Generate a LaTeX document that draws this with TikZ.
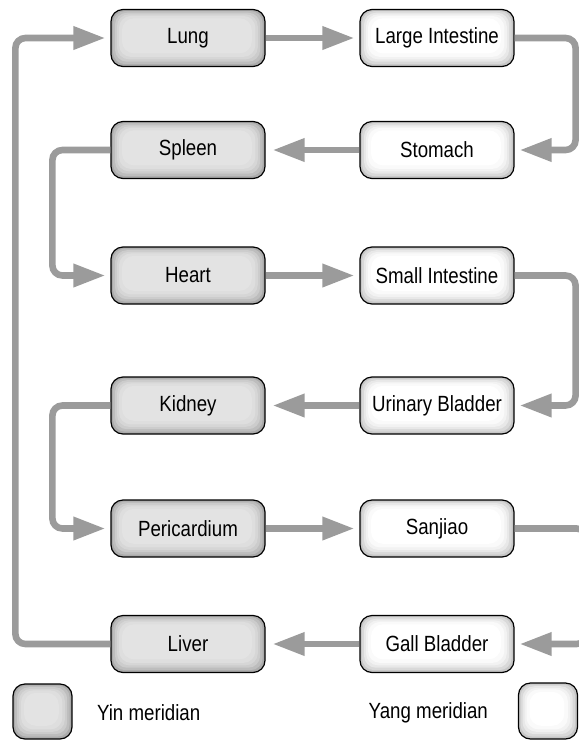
\documentclass[tikz,border=0pt]{standalone}
\usepackage{fontspec}
\setmainfont{Liberation Sans}[FakeStretch=0.85]
\usepackage{tikz}
\usetikzlibrary{arrows.meta}

\definecolor{linegray}{HTML}{9B9B9B}

\tikzset{
  box/.style={draw, line width=0.6pt, rounded corners=6pt, inner sep=0pt,
    minimum width=77pt, minimum height=28.5pt},
  yin/.style={box, path picture={
      \foreach \d/\c in {0/33,1/26,2/20,3/16,4/13,5.5/11}
        \fill[black!\c, rounded corners=6pt]
          ([shift={(\d pt,1.2*\d pt)}]path picture bounding box.south west) rectangle
          ([shift={(-1.2*\d pt,-0.8*\d pt)}]path picture bounding box.north east);
    }},
  yang/.style={box, path picture={
      \foreach \d/\c in {0/22,1/15,2/9,3/5,4/2,5.5/0}
        \fill[black!\c, rounded corners=6pt]
          ([shift={(\d pt,1.2*\d pt)}]path picture bounding box.south west) rectangle
          ([shift={(-1.2*\d pt,-0.8*\d pt)}]path picture bounding box.north east);
    }},
  flow/.style={draw=linegray, line width=3.3pt, rounded corners=5pt,
    -{Triangle[length=16pt,width=11pt]}, shorten >=2.5pt}
}

\begin{document}
\begin{tikzpicture}[x=0.5pt, y=-0.5pt, font=\fontsize{11}{13}\selectfont]
  \useasboundingbox (0,0) rectangle (579,741);
  \clip (0,0) rectangle (579,741);

  \node (Lung) at (188, 38) [yin] {Lung};
  \node (LI) at (437, 38) [yang] {Large Intestine};
  \node (Spleen) at (188, 150) [yin] {Spleen};
  \node (Stomach) at (437, 150) [yang] {Stomach};
  \node (Heart) at (188, 275.5) [yin] {Heart};
  \node (SI) at (437, 275.5) [yang] {Small Intestine};
  \node (Kidney) at (188, 405.5) [yin] {Kidney};
  \node (UB) at (437, 405.5) [yang] {Urinary Bladder};
  \node (Peri) at (188, 528.5) [yin] {Pericardium};
  \node (Sanjiao) at (437, 528.5) [yang] {Sanjiao};
  \node (Liver) at (188, 644) [yin] {Liver};
  \node (GB) at (437, 644) [yang] {Gall Bladder};

  \draw[flow] (Lung) -- (LI);
  \draw[flow] (LI.east) -- ++(61,0) |- (Stomach.east);
  \draw[flow, shorten >=3.5pt] (Stomach) -- (Spleen);
  \draw[flow] (Spleen.west) -- ++(-58,0) |- (Heart.west);
  \draw[flow] (Heart) -- (SI);
  \draw[flow] (SI.east) -- ++(61,0) |- (UB.east);
  \draw[flow, shorten >=3.5pt] (UB) -- (Kidney);
  \draw[flow] (Kidney.west) -- ++(-58,0) |- (Peri.west);
  \draw[flow] (Peri) -- (Sanjiao);
  \draw[flow] (Sanjiao.east) -- ++(72,0) |- (GB.east);
  \draw[flow, shorten >=3.5pt] (GB) -- (Liver);
  \draw[flow] (Liver.west) -- ++(-95,0) |- (Lung.west);

  \node (YinKey) at (42.5, 711.5) [yin, minimum width=29.5pt, minimum height=27.5pt] {};
  \node (YinText) at (90, 713) [anchor=west] {Yin meridian};
  \node (YangKey) at (548, 711) [yang, minimum width=29.5pt, minimum height=28pt] {};
  \node (YangText) at (495, 713) [anchor=east] {Yang meridian};
\end{tikzpicture}
\end{document}
